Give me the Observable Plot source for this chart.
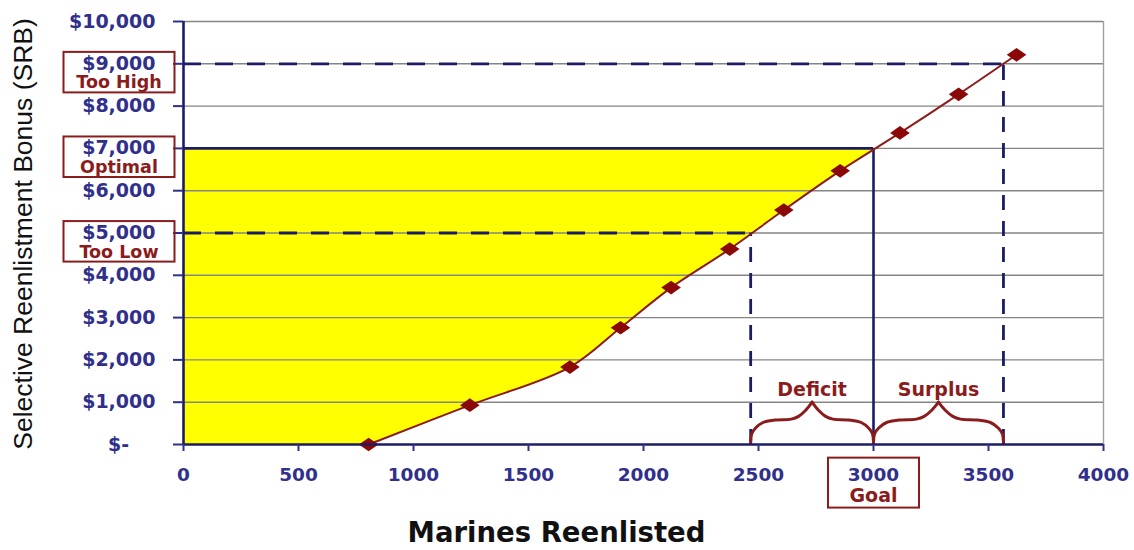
<!DOCTYPE html>
<html>
<head>
<meta charset="utf-8">
<script src="https://cdn.jsdelivr.net/npm/d3@7"></script>
<script src="https://cdn.jsdelivr.net/npm/@observablehq/plot@0.6"></script>
<style>
html, body { margin: 0; padding: 0; background: #ffffff; }
#chart svg { display: block; }
</style>
</head>
<body>
<div id="chart"></div>
<script>
// ---- data ----
const marinesReenlisted = [805, 1245, 1680, 1900, 2120, 2375, 2610, 2855, 3115, 3370, 3622];
const bonusSRB          = [0, 930, 1830, 2760, 3710, 4620, 5543, 6470, 7366, 8278, 9213];
const xTicks = [0, 500, 1000, 1500, 2000, 2500, 3000, 3500, 4000];
const yTicks = [0, 1000, 2000, 3000, 4000, 5000, 6000, 7000, 8000, 9000, 10000];
const bonusLevels    = [5000, 7000, 9000];
const levelNames     = ["Too Low", "Optimal", "Too High"];
const levelCrossings = [2466, 3000, 3565];   // marines reenlisted at each bonus level
const goalMarines = 3000;
const goalName = "Goal";
const rangeNames = ["Deficit", "Surplus"];
const braceTop = 1000;
// brace half-shape: [fraction of span, bonus value]
const braceHalf = [[0, 60], [0.008, 250], [0.04, 390], [0.1, 520], [0.2, 578], [0.33, 600], [0.39, 665], [0.45, 815], [0.5, braceTop]];

// ---- derived tables ----
const points = marinesReenlisted.map((x, i) => ({x, y: bonusSRB[i]}));
const levels = bonusLevels.map((b, i) => ({bonus: b, name: levelNames[i], marines: levelCrossings[i]}));
const optimalLevel = levels.find(d => d.marines === goalMarines);
const sideLevels = levels.filter(d => d !== optimalLevel);
const ranges = [
  {name: rangeNames[0], a: levelCrossings[0], b: goalMarines},
  {name: rangeNames[1], a: goalMarines, b: levelCrossings[2]}
];
const bracePts = [];
ranges.forEach((r, ri) => {
  const w = r.b - r.a;
  braceHalf.forEach(([f, v]) => bracePts.push({x: r.a + f * w, y: v, z: ri + "L"}));
  braceHalf.forEach(([f, v]) => bracePts.push({x: r.b - f * w, y: v, z: ri + "R"}));
});
const rangeLabels = ranges.map(r => ({name: r.name, x: (r.a + r.b) / 2}));

// ---- styles ----
const navyLine = "#1c1c66";
const navyText = "#30308c";
const darkRed = "#8b1c1c";
const gridGray = "#858585";
const yFmt = d => d === 0 ? "$-\u2007\u2007" : "$" + d3.format(",")(d);
const xFmt = d => String(d);

const wideDiamond = {
  draw(ctx, size) {
    const w = Math.sqrt(size / Math.PI), h = w * 0.7;
    ctx.moveTo(0, -h); ctx.lineTo(w, 0); ctx.lineTo(0, h); ctx.lineTo(-w, 0); ctx.closePath();
  }
};

const plot = Plot.plot({
  width: 1134,
  height: 550,
  marginLeft: 183,
  marginRight: 31,
  marginTop: 21,
  marginBottom: 106,
  style: {fontFamily: "'DejaVu Sans', Verdana, sans-serif", fontWeight: "bold", background: "#ffffff"},
  x: {domain: [0, 4000]},
  y: {domain: [0, 10000]},
  marks: [
    // yellow area left of the curve, up to the optimal bonus
    Plot.areaX(points, {x1: 0, x2: "x", y: "y", curve: "catmull-rom", fill: "#ffff00"}),
    Plot.rect([{x1: 0, x2: 4000, y1: optimalLevel.bonus, y2: 10000}], {x1: "x1", x2: "x2", y1: "y1", y2: "y2", fill: "#ffffff"}),
    // grid
    Plot.ruleY(yTicks.filter(d => d > 0), {x1: 0, x2: 4000, stroke: gridGray, strokeWidth: 1.4}),
    Plot.ruleX([4000], {y1: 0, y2: 10000, stroke: "#a0a0a0", strokeWidth: 1.4}),
    // optimal solid lines
    Plot.ruleY([optimalLevel], {y: "bonus", x1: 0, x2: "marines", stroke: navyLine, strokeWidth: 2.8}),
    Plot.ruleX([optimalLevel], {x: "marines", y1: 0, y2: "bonus", stroke: navyLine, strokeWidth: 2.6}),
    // dashed lines
    Plot.ruleY(sideLevels, {y: "bonus", x1: 0, x2: "marines", stroke: navyLine, strokeWidth: 2.8, strokeDasharray: "18,14"}),
    Plot.ruleX(sideLevels, {x: "marines", y1: 0, y2: "bonus", stroke: navyLine, strokeWidth: 2.8, strokeDasharray: "15,11"}),
    // braces
    Plot.line(bracePts, {x: "x", y: "y", z: "z", curve: "catmull-rom", stroke: darkRed, strokeWidth: 3, strokeLinecap: "round"}),
    Plot.text(rangeLabels, {x: "x", y: braceTop, text: "name", lineAnchor: "bottom", dy: -6, fontSize: 19, fill: darkRed}),
    // curve + markers
    Plot.line(points, {x: "x", y: "y", curve: "catmull-rom", stroke: darkRed, strokeWidth: 2}),
    Plot.dot(points, {x: "x", y: "y", r: 9.8, symbol: wideDiamond, fill: "#8b0808", stroke: "none"}),
    // axis lines
    Plot.ruleY([0], {x1: 0, x2: 4000, stroke: navyLine, strokeWidth: 2.4}),
    Plot.ruleX([0], {y1: 0, y2: 10000, stroke: navyLine, strokeWidth: 2.6}),
    // axes
    Plot.axisY({ticks: yTicks, tickFormat: yFmt, tickSize: 10, tickPadding: 18, fontSize: 19, color: navyText, strokeWidth: 2, label: null}),
    Plot.axisX({ticks: xTicks, tickFormat: xFmt, tickSize: 7, tickPadding: 16, fontSize: 18.5, color: navyText, strokeWidth: 2, label: null}),
    // level sub-labels
    Plot.text(levels, {x: 0, y: "bonus", text: "name", textAnchor: "middle", dx: -64.5, dy: 19, fontSize: 17.5, fill: darkRed}),
    Plot.text([goalName], {x: goalMarines, y: 0, text: d => d, textAnchor: "middle", dy: 51, fontSize: 19, fill: darkRed}),
    // titles
    Plot.text(["Marines Reenlisted"], {frameAnchor: "bottom", textAnchor: "middle", lineAnchor: "middle", dx: -87, dy: 89, fontSize: 27.5, fill: "#111111"}),
    Plot.text(["Selective Reenlistment Bonus (SRB)"], {frameAnchor: "left", textAnchor: "middle", lineAnchor: "middle", rotate: -90, dx: -160, dy: 1, fontSize: 26.5, fontWeight: "normal", fontFamily: "'Liberation Sans', Arial, sans-serif", fill: "#111111"})
  ]
});

document.getElementById("chart").append(plot);

// ---- boxes around highlighted labels ----
const svgRect = plot.getBoundingClientRect();
const allTexts = Array.from(plot.querySelectorAll("text"));
const findText = s => allTexts.find(n => n.textContent === s);
function unionBox(nodes) {
  let l = Infinity, t = Infinity, r = -Infinity, b = -Infinity;
  nodes.forEach(n => {
    const bb = n.getBoundingClientRect();
    l = Math.min(l, bb.left); t = Math.min(t, bb.top);
    r = Math.max(r, bb.right); b = Math.max(b, bb.bottom);
  });
  return {l: l - svgRect.left, t: t - svgRect.top, r: r - svgRect.left, b: b - svgRect.top};
}
function drawBox(nodes, boxWidth, padTop, padBottom) {
  const u = unionBox(nodes);
  const cx = (u.l + u.r) / 2;
  d3.select(plot).append("rect")
    .attr("x", cx - boxWidth / 2).attr("y", u.t - padTop)
    .attr("width", boxWidth).attr("height", (u.b - u.t) + padTop + padBottom)
    .attr("fill", "none").attr("stroke", darkRed).attr("stroke-width", 2);
}
levels.forEach(lv => {
  const tick = findText(yFmt(lv.bonus));
  const sub = findText(lv.name);
  if (tick && sub) drawBox([tick, sub], 111, 0, 0);
});
const goalTick = findText(xFmt(goalMarines));
const goalSub = findText(goalName);
if (goalTick && goalSub) drawBox([goalTick, goalSub], 91, 6, 2);
</script>
</body>
</html>
